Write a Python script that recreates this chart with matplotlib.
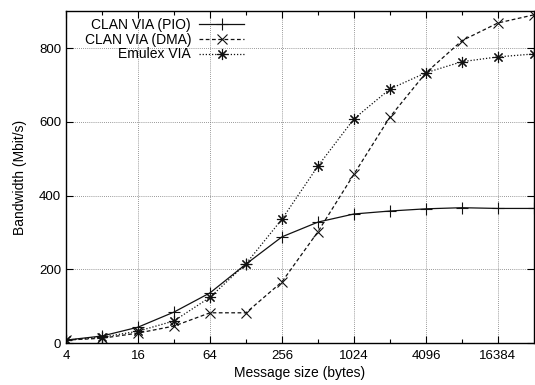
import matplotlib
matplotlib.use("Agg")
import matplotlib.pyplot as plt
from matplotlib.ticker import FixedLocator, FixedFormatter, NullFormatter

plt.rcParams["font.family"] = ["Liberation Sans", "DejaVu Sans"]

# message sizes (bytes)
sizes = [4, 8, 16, 32, 64, 128, 256, 512, 1024, 2048, 4096, 8192, 16384, 32768]

# bandwidth (Mbit/s)
clan_pio = [8, 19, 43, 84, 136, 214, 288, 328, 350, 358, 364, 367, 365, 365]
clan_dma = [8, 13, 27, 46, 82, 82, 166, 302, 458, 613, 733, 820, 868, 890]
emulex = [8, 16, 32, 60, 124, 215, 336, 480, 608, 689, 733, 763, 776, 784]

xticks = [4, 16, 64, 256, 1024, 4096, 16384]
xminor = [8, 32, 128, 512, 2048, 8192]
yticks = [0, 200, 400, 600, 800]

fig = plt.figure(figsize=(5.35, 3.85), dpi=100)
ax = fig.add_axes([0.1234, 0.109, 0.8746, 0.862])

ax.plot(sizes, clan_pio, color="#111111", lw=0.9, ls="-", marker="+",
        ms=9, mew=0.8, label="CLAN VIA (PIO)")
ax.plot(sizes, clan_dma, color="#111111", lw=0.9, ls=(0, (3, 2)), marker="x",
        ms=7, mew=0.8, label="CLAN VIA (DMA)")
ax.plot(sizes, emulex, color="#111111", lw=0.9, ls=(0, (1, 1.5)), marker=(8, 2, 0),
        ms=8, mew=0.8, label="Emulex VIA")

ax.set_xscale("log", base=2)
ax.set_xlim(4, 32768)
ax.set_ylim(0, 900)

ax.xaxis.set_major_locator(FixedLocator(xticks))
ax.xaxis.set_major_formatter(FixedFormatter([str(v) for v in xticks]))
ax.xaxis.set_minor_locator(FixedLocator(xminor))
ax.xaxis.set_minor_formatter(NullFormatter())
ax.yaxis.set_major_locator(FixedLocator(yticks))

ax.grid(True, which="major", color="#777777", ls=(0, (1, 1.5)), lw=0.6)
ax.tick_params(which="both", direction="in", top=True, right=True, labelsize=9.5)
ax.tick_params(which="major", length=5, width=0.8)
ax.tick_params(which="minor", length=3, width=0.8)
ax.tick_params(axis="x", pad=5)
for s in ax.spines.values():
    s.set_linewidth(1.0)

ax.set_xlabel("Message size (bytes)", fontsize=10, labelpad=3)
ax.set_ylabel("Bandwidth (Mbit/s)", fontsize=10, labelpad=9)

leg = ax.legend(loc="upper right", bbox_to_anchor=(0.395, 1.0), frameon=False,
                fontsize=10, markerfirst=False, handlelength=3.2,
                labelspacing=0.05, borderaxespad=0.2, borderpad=0.3,
                handletextpad=0.6)
for t in leg.get_texts():
    t.set_ha("right")
leg._legend_box.align = "right"

fig.savefig("out.png", dpi=100)
